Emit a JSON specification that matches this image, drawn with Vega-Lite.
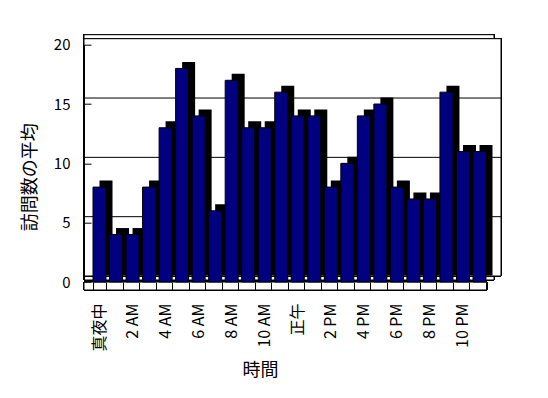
{
  "$schema": "https://vega.github.io/schema/vega-lite/v6.json",
  "autosize": {"type": "none"},
  "padding": {"left": 84, "top": 44.7, "right": 61, "bottom": 116},
  "width": 403,
  "height": 237.3,
  "background": "white",
  "config": {
    "view": {"stroke": null},
    "font": "Noto Sans CJK JP",
    "axis": {"labelFont": "Noto Sans CJK JP", "titleFont": "Noto Sans CJK JP", "labelColor": "black", "titleColor": "black", "titleFontWeight": "normal"}
  },
  "data": {
    "values": [
      {"hour": 0, "visits": 8}, {"hour": 1, "visits": 4}, {"hour": 2, "visits": 4}, {"hour": 3, "visits": 8},
      {"hour": 4, "visits": 13}, {"hour": 5, "visits": 18}, {"hour": 6, "visits": 14}, {"hour": 7, "visits": 6},
      {"hour": 8, "visits": 17}, {"hour": 9, "visits": 13}, {"hour": 10, "visits": 13}, {"hour": 11, "visits": 16},
      {"hour": 12, "visits": 14}, {"hour": 13, "visits": 14}, {"hour": 14, "visits": 8}, {"hour": 15, "visits": 10},
      {"hour": 16, "visits": 14}, {"hour": 17, "visits": 15}, {"hour": 18, "visits": 8}, {"hour": 19, "visits": 7},
      {"hour": 20, "visits": 7}, {"hour": 21, "visits": 16}, {"hour": 22, "visits": 11}, {"hour": 23, "visits": 11}
    ]
  },
  "layer": [
    {
      "mark": {"type": "rect", "fill": "white", "stroke": "black", "strokeWidth": 1, "xOffset": 7, "x2Offset": 14.7, "yOffset": -10, "y2Offset": -2},
      "encoding": {
        "y": {"datum": 20, "type": "quantitative", "scale": {"domain": [0, 20]}},
        "y2": {"datum": 0}
      }
    },
    {
      "mark": {"type": "rect", "fill": "white", "stroke": "black", "strokeWidth": 1, "xOffset": 14, "x2Offset": 8, "yOffset": -6, "y2Offset": -6},
      "encoding": {
        "y": {"datum": 20, "type": "quantitative"},
        "y2": {"datum": 0}
      }
    },
    {
      "data": {"values": [{"g": 5}, {"g": 10}, {"g": 15}]},
      "mark": {"type": "rule", "color": "black", "strokeWidth": 1, "xOffset": 14, "x2Offset": 8, "yOffset": -6},
      "encoding": {"y": {"field": "g", "type": "quantitative"}}
    },
    {
      "mark": {"type": "rect", "fill": "white", "stroke": "black", "strokeWidth": 1, "y2Offset": 8},
      "encoding": {
        "y": {"datum": 0, "type": "quantitative"},
        "y2": {"datum": 0}
      }
    },
    {
      "mark": {"type": "bar", "color": "black", "xOffset": 6.5, "yOffset": -6.5},
      "encoding": {
        "x": {"field": "hour", "type": "ordinal"},
        "y": {"field": "visits", "type": "quantitative"}
      }
    },
    {
      "mark": {"type": "bar", "fill": "#000080", "stroke": "black", "strokeWidth": 1},
      "encoding": {
        "x": {
          "field": "hour",
          "type": "ordinal",
          "scale": {"paddingInner": 0.213, "paddingOuter": 0.303, "align": 0.9},
          "axis": {
            "title": "時間",
            "titleFontSize": 18,
            "titlePadding": 10,
            "titleX": 176,
            "labelAngle": -90,
            "labelFontSize": 16,
            "labelPadding": 13,
            "domain": false,
            "ticks": true,
            "tickBand": "extent",
            "tickSize": 8,
            "tickColor": "black",
            "zindex": 1,
            "labelExpr": "datum.value % 2 == 0 ? ['真夜中','2 AM','4 AM','6 AM','8 AM','10 AM','正午','2 PM','4 PM','6 PM','8 PM','10 PM'][datum.value / 2] : ''"
          }
        },
        "y": {
          "field": "visits",
          "type": "quantitative",
          "scale": {"domain": [0, 20]},
          "axis": {
            "title": "訪問数の平均",
            "titleFontSize": 18,
            "titlePadding": 14,
            "titleY": 132,
            "values": [0, 5, 10, 15, 20],
            "labelFontSize": 15,
            "labelPadding": 21,
            "grid": false,
            "ticks": true,
            "tickSize": -7,
            "tickColor": "black",
            "domainColor": "black",
            "zindex": 1
          }
        }
      }
    }
  ]
}
